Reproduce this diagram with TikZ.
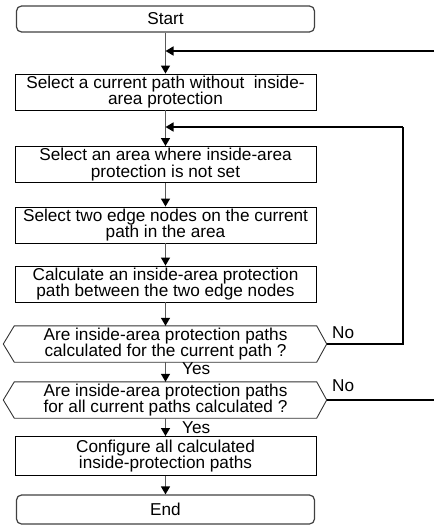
\documentclass[tikz,border=0pt]{standalone}
\usepackage{fontspec}
\setmainfont{Liberation Sans}
\usetikzlibrary{arrows.meta}
\begin{document}
\begin{tikzpicture}[x=1pt,y=-1pt,
  every node/.style={font=\fontsize{17.2}{16.5}\selectfont, inner sep=0pt, align=center},
  stepbox/.style={draw=black, line width=0.9pt, minimum width=301pt, minimum height=36pt},
  termbox/.style={draw=black!75, line width=1.2pt, rounded corners=5pt, minimum width=298pt, minimum height=26pt},
  decbody/.style={minimum width=302pt, minimum height=36pt},
  hexline/.style={draw=black!80, line width=0.9pt},
  flow/.style={draw=black!65, line width=1.3pt, -{Triangle[width=9pt,length=8pt,color=black]}},
  loopline/.style={draw=black, line width=1.6pt},
  looparrow/.style={loopline, -{Triangle[width=9pt,length=8pt,color=black]}},
  lbl/.style={anchor=base west}
]
\useasboundingbox (0,0) rectangle (434,525);

% terminals and process steps
\node[termbox] (start) at (165.5,19) {Start};
\node[stepbox] (s1) at (165.5,92) {Select a current path without \ inside-\\area protection};
\node[stepbox] (s2) at (165.5,164.5) {Select an area where inside-area\\protection is not set};
\node[stepbox] (s3) at (165.5,225) {Select two edge nodes on the current\\path in the area};
\node[stepbox] (s4) at (165.5,284) {Calculate an inside-area protection\\path between the two edge nodes};

% decisions (hexagonal outline drawn around a plain body)
\node[decbody] (d1) at (165.5,344) {Are inside-area protection paths\\calculated for the current path ?};
\node[decbody] (d2) at (165.5,400) {Are inside-area protection paths\\for all current paths calculated ?};
\foreach \d in {d1,d2}{
  \coordinate (\d tip) at ([xshift=10pt]\d.east);
  \draw[hexline] (\d.north west) -- (\d.north east) -- (\d tip) -- (\d.south east)
    -- (\d.south west) -- ([xshift=-11pt]\d.west) -- cycle;
}

\node[stepbox, minimum height=39pt] (s5) at (165.5,456) {Configure all calculated\\inside-protection paths};
\node[termbox, minimum height=29pt] (end) at (165.5,509.5) {End};

% main flow
\draw[flow] (start) -- (s1);
\draw[flow] (s1) -- (s2);
\draw[flow] (s2) -- (s3);
\draw[flow] (s3) -- (s4);
\draw[flow] (s4) -- (d1);
\draw[flow] (d1) -- (d2);
\draw[flow] (d2) -- (s5);
\draw[flow] (s5) -- (end);

% branch labels
\node[lbl] (yes1) at (182,374) {Yes};
\node[lbl] (yes2) at (182,433) {Yes};
\node[lbl] (no1) at (332,338) {No};
\node[lbl] (no2) at (332,391) {No};

% loop back to the area selection
\coordinate (r1) at (403,127);
\draw[loopline] (d1tip) -| (r1);
\draw[looparrow] (r1) -- (r1 -| s2);

% loop back to the path selection (continues past the right edge)
\coordinate (e1) at (434,51);
\draw[looparrow] (e1) -- (e1 -| s1);
\draw[loopline] (d2tip) -- (d2tip -| e1);
\end{tikzpicture}
\end{document}
